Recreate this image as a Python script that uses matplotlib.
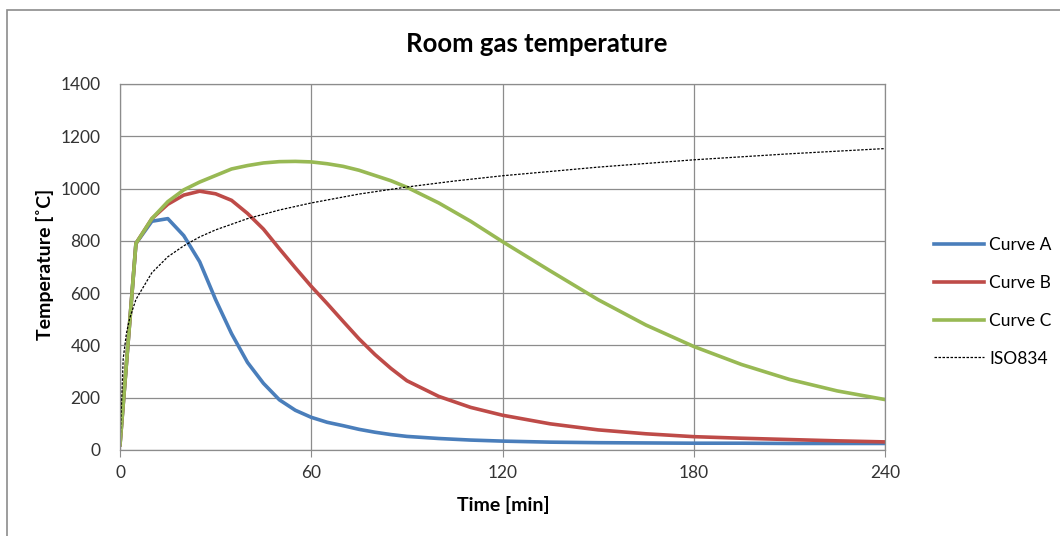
import matplotlib
matplotlib.use("Agg")
import matplotlib.pyplot as plt
from matplotlib.patches import Rectangle

plt.rcParams['font.family'] = ['Lato', 'DejaVu Sans']

# Zeit [min] und Temperaturen [°C]
t_curves = [0, 5, 10, 15, 20, 25, 30, 35, 40, 45, 50, 55, 60, 65, 70, 75, 80, 85, 90,
            100, 110, 120, 135, 150, 165, 180, 195, 210, 225, 240]
curve_a = [20, 790, 875, 885, 820, 720, 575, 445, 335, 255, 192, 152, 125, 106, 93, 79, 68, 59, 52,
           44, 38, 34, 30, 28, 27, 26, 26, 25, 25, 25]
curve_b = [20, 790, 885, 940, 975, 990, 980, 955, 905, 845, 770, 697, 626, 560, 492, 425, 365, 312, 265,
           205, 163, 133, 100, 77, 62, 51, 45, 40, 35, 31]
curve_c = [20, 790, 885, 950, 995, 1025, 1050, 1075, 1088, 1098, 1103, 1104, 1102, 1095, 1085, 1070, 1050, 1030, 1005,
           945, 875, 797, 685, 575, 478, 396, 327, 270, 226, 193]

t_iso = [0, 1, 2, 3, 5, 10, 15, 20, 25, 30, 40, 50, 60, 75, 90, 105, 120, 150, 180, 210, 240]
iso834 = [20, 349, 445, 502, 576, 678, 739, 781, 815, 842, 885, 918, 945, 979, 1006, 1029, 1049, 1082, 1110, 1133, 1153]

xticks = [0, 60, 120, 180, 240]
yticks = [0, 200, 400, 600, 800, 1000, 1200, 1400]

W, H = 1060, 536
fig = plt.figure(figsize=(W / 100, H / 100), dpi=100)
ax = fig.add_axes([120 / W, 1 - 450 / H, 765 / W, 366 / H])

ax.plot(t_curves, curve_a, color='#4A7EBB', lw=2.6, label='Curve A')
ax.plot(t_curves, curve_b, color='#BE4B48', lw=2.6, label='Curve B')
ax.plot(t_curves, curve_c, color='#98B954', lw=2.6, label='Curve C')
ax.plot(t_iso, iso834, color='black', lw=0.9, ls=(0, (2, 1.2)), label='ISO834')

ax.set_xlim(0, 240)
ax.set_ylim(0, 1400)
ax.set_xticks(xticks)
ax.set_yticks(yticks)
ax.grid(True, color='#8c8c8c', lw=0.9)
for s in ax.spines.values():
    s.set_color('#8c8c8c')
    s.set_linewidth(0.9)
ax.tick_params(axis='x', length=5, color='#8c8c8c', pad=6, labelsize=12.5, labelcolor='#333333')
ax.tick_params(axis='y', length=0, pad=14, labelsize=12.5, labelcolor='#333333')

fig.text(537 / W, 1 - 44 / H, 'Room gas temperature', ha='center', va='center',
         fontsize=18.5, fontweight='bold')
fig.text(45 / W, 1 - 264 / H, 'Temperature [˚C]', ha='center', va='center',
         rotation=90, fontsize=14, fontweight='bold')
fig.text(503 / W, 1 - 505 / H, 'Time [min]', ha='center', va='center',
         fontsize=14, fontweight='bold')

fig.legend(loc='center left', bbox_to_anchor=(918 / W, 1 - 302 / H), frameon=False,
           fontsize=12.5, handlelength=2.9, handletextpad=0.3, labelspacing=1.25)

# Rahmen des Diagrammbereichs
fig.patches.append(Rectangle((7 / W, -0.1), 1.2, 1 - 10 / H + 0.1, transform=fig.transFigure,
                             fill=False, edgecolor='#8c8c8c', lw=1.2))

fig.savefig('out.png', dpi=100)
